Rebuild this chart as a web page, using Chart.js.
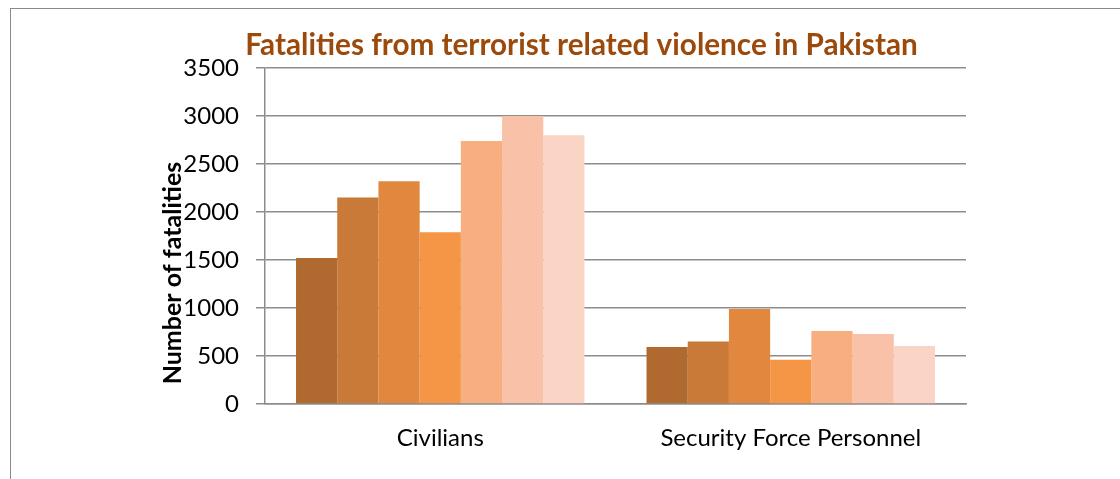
<!DOCTYPE html>
<html>
<head>
<meta charset="utf-8">
<script src="https://cdn.jsdelivr.net/npm/chart.js@4.4.1/dist/chart.umd.min.js"></script>
<style>
  html, body { margin: 0; padding: 0; background: #fff; }
  #wrap { position: relative; width: 1120px; height: 479px; overflow: hidden; }
  #frame { position: absolute; left: 10px; top: 8px; width: 1200px; height: 600px;
           border-left: 1.5px solid #8a8a8a; border-top: 1.5px solid #8a8a8a; }
  canvas { position: absolute; left: 0; top: 0; }
</style>
</head>
<body>
<div id="wrap">
  <div id="frame"></div>
  <canvas id="c" width="1120" height="479"></canvas>
</div>
<script>
const categories = ["Civilians", "Security Force Personnel"];
const seriesNames = ["Series 1", "Series 2", "Series 3", "Series 4", "Series 5", "Series 6", "Series 7"];
const series1 = [1520, 595];
const series2 = [2150, 650];
const series3 = [2320, 990];
const series4 = [1790, 460];
const series5 = [2740, 760];
const series6 = [3000, 730];
const series7 = [2800, 605];
const seriesColors = ["#B06A30", "#CA7A38", "#E1883E", "#F59646", "#F7AE80", "#F9C1A8", "#FAD4C4"];
const yTicks = [0, 500, 1000, 1500, 2000, 2500, 3000, 3500];
const chartTitle = "Fatalities from terrorist related violence in Pakistan";
const yTitle = "Number of fatalities";

const allSeries = [series1, series2, series3, series4, series5, series6, series7];

const titlePlugin = {
  id: 'customTitles',
  afterDraw(chart) {
    const ctx = chart.ctx;
    const a = chart.chartArea;
    ctx.save();
    ctx.fillStyle = "#9C4A0C";
    ctx.font = "bold 29.7px Lato";
    ctx.textAlign = "center";
    ctx.textBaseline = "alphabetic";
    ctx.fillText(chartTitle, (a.left + a.right) / 2 - 34, a.top - 13);
    ctx.restore();

    ctx.save();
    ctx.fillStyle = "#000";
    ctx.font = "bold 25px Lato";
    ctx.translate(a.left - 92, (a.top + a.bottom) / 2 + 37);
    ctx.rotate(-Math.PI / 2);
    ctx.textAlign = "center";
    ctx.textBaseline = "middle";
    ctx.fillText(yTitle, 0, 0);
    ctx.restore();
  }
};

new Chart(document.getElementById('c'), {
  type: 'bar',
  data: {
    labels: categories,
    datasets: allSeries.map((d, i) => ({
      label: seriesNames[i],
      data: d,
      backgroundColor: seriesColors[i],
      borderWidth: 0,
      categoryPercentage: 0.823,
      barPercentage: 1.0
    }))
  },
  options: {
    responsive: false,
    animation: false,
    devicePixelRatio: 1,
    layout: { padding: { left: 150, right: 154, top: 68, bottom: 0 } },
    plugins: {
      legend: { display: false },
      title: { display: false },
      tooltip: { enabled: false }
    },
    scales: {
      x: {
        grid: { display: false, drawTicks: false },
        border: { display: true, color: "#8c8c8c", width: 1.5 },
        ticks: { color: "#000", font: { family: "Lato", size: 24 }, padding: 20 },
        afterFit(s) { s.height = 75; }
      },
      y: {
        min: 0, max: 3500,
        afterBuildTicks(s) { s.ticks = yTicks.map(v => ({ value: v })); },
        grid: { color: "#8c8c8c", lineWidth: 1.5, tickLength: 9, drawTicks: true },
        border: { display: true, color: "#8c8c8c", width: 1.5 },
        ticks: { color: "#000", font: { family: "Lato", size: 24 }, padding: 17,
                 callback: (v) => String(v) },
        afterFit(s) { s.width = 115; }
      }
    }
  },
  plugins: [titlePlugin]
});
</script>
</body>
</html>
